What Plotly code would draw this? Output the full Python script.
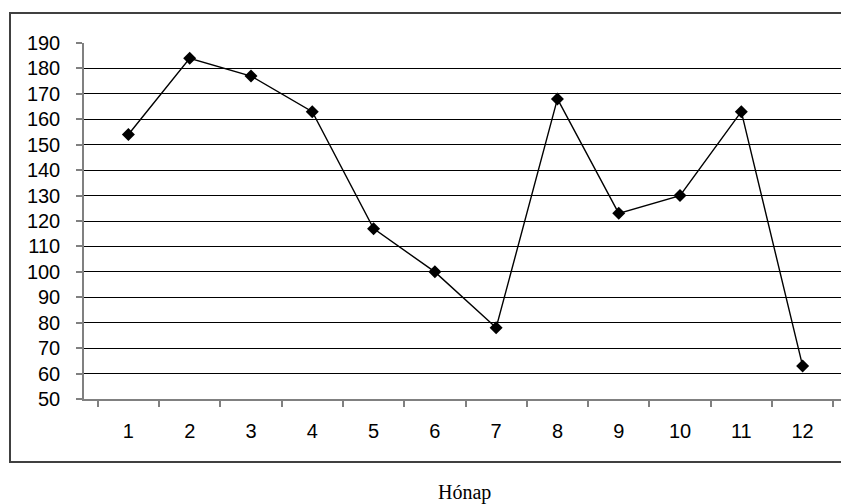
import plotly.graph_objects as go

months = [str(i) for i in range(1, 13)]
values = [154, 184, 177, 163, 117, 100, 78, 168, 123, 130, 163, 63]
y_ticks = list(range(50, 191, 10))
x_title = "Hónap"

# page body has an 8px margin, so the figure is drawn 8px in from the top-left
OFF = 8
W, H = 849 - OFF, 504 - OFF
L, R, T, B = 84 - OFF, 2, 43 - OFF, 504 - 399
pw, ph = W - L - R, H - T - B

def px(x):
    return (x - OFF - L) / pw

def py(y):
    return (H - B - (y - OFF)) / ph

fig = go.Figure()
fig.add_trace(go.Scatter(
    x=months, y=values, mode="lines+markers",
    line=dict(color="black", width=1.4),
    marker=dict(symbol="diamond", size=10, color="black"),
    showlegend=False, cliponaxis=False,
))

fig.update_layout(
    width=W, height=H,
    margin=dict(l=L, r=R, t=T, b=B),
    paper_bgcolor="white", plot_bgcolor="white",
    font=dict(family="Liberation Sans, Arial, sans-serif", size=20, color="black"),
    xaxis=dict(
        type="category", tickson="boundaries", ticks="outside", ticklen=6,
        tickcolor="#808080", tickwidth=1.5, showline=True, linecolor="#808080",
        linewidth=1.5, showgrid=False, zeroline=False, ticklabelstandoff=13,
        tickfont=dict(size=20),
    ),
    yaxis=dict(
        range=[50, 190], tickvals=y_ticks, ticks="outside", ticklen=6,
        tickcolor="#808080", tickwidth=1.5, showline=True, linecolor="#808080",
        linewidth=1.5, showgrid=True, gridcolor="black", gridwidth=1,
        zeroline=False, ticklabelstandoff=12, tickfont=dict(size=20),
    ),
    shapes=[dict(
        type="rect", xref="paper", yref="paper",
        x0=px(10), x1=px(860), y0=py(462), y1=py(13),
        line=dict(color="#404040", width=2), fillcolor="rgba(0,0,0,0)", layer="below",
    )],
    annotations=[dict(
        text=x_title, xref="paper", yref="paper", x=px(464), y=py(492),
        xanchor="center", yanchor="middle", showarrow=False,
        font=dict(family="Liberation Serif, Times New Roman, serif", size=20, color="black"),
    )],
)

fig.write_html("out.html")
